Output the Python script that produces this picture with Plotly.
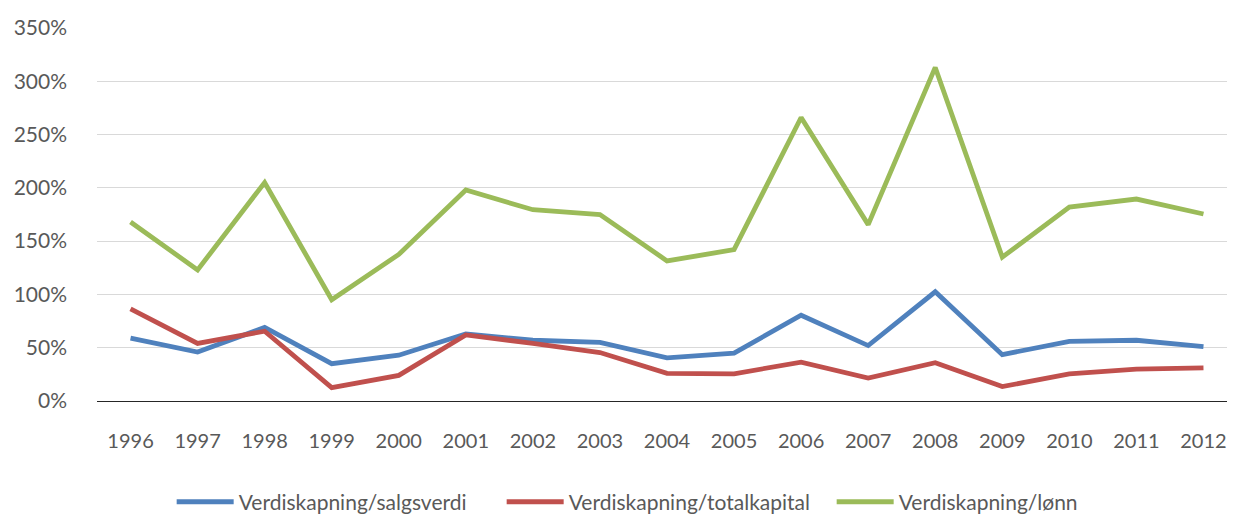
import plotly.graph_objects as go

years = [str(y) for y in range(1996, 2013)]
salgsverdi = [59, 46, 69, 35, 43, 63, 57, 55, 40.5, 45, 80.5, 52, 102.5, 43.5, 56, 57, 51]
totalkapital = [86.5, 54, 65.5, 12.5, 24, 62, 54, 45.5, 26, 25.5, 36.5, 21.5, 36, 13.5, 25.5, 30, 31]
lonn = [168, 123, 205, 95, 137.5, 198, 179.5, 175, 131.5, 142, 266, 165.5, 313, 135, 182, 189.5, 175.5]

names = ["Verdiskapning/salgsverdi", "Verdiskapning/totalkapital", "Verdiskapning/lønn"]
colors = ["#4f81bd", "#c0504d", "#9bbb59"]

fig = go.Figure()
for name, vals, col in zip(names, [salgsverdi, totalkapital, lonn], colors):
    fig.add_trace(go.Scatter(x=years, y=vals, name=name, mode="lines",
                             line=dict(color=col, width=4.8)))

fig.update_layout(
    width=1235, height=530,
    margin=dict(l=80, r=6, t=16, b=137),
    plot_bgcolor="white", paper_bgcolor="white",
    font=dict(family="Lato, Open Sans, sans-serif", color="#595959", size=19),
    xaxis=dict(type="category", range=[-0.5, 16.5], showgrid=False, showline=False,
               ticks="", tickfont=dict(size=20, color="#595959"), ticklabelstandoff=26),
    yaxis=dict(range=[0, 350], dtick=50, ticksuffix="%", showgrid=True,
               gridcolor="#d9d9d9", gridwidth=1.3, zeroline=True, zerolinecolor="#262626",
               zerolinewidth=1.3, tickfont=dict(size=21, color="#595959"), ticks="",
               ticklabelstandoff=29),
    legend=dict(orientation="h", x=0.0655, xanchor="left", y=-0.326, yanchor="bottom",
                entrywidth=258, entrywidthmode="pixels",
                font=dict(size=21, color="#595959"), itemwidth=57),
    showlegend=True,
)

fig.write_html("out.html")
